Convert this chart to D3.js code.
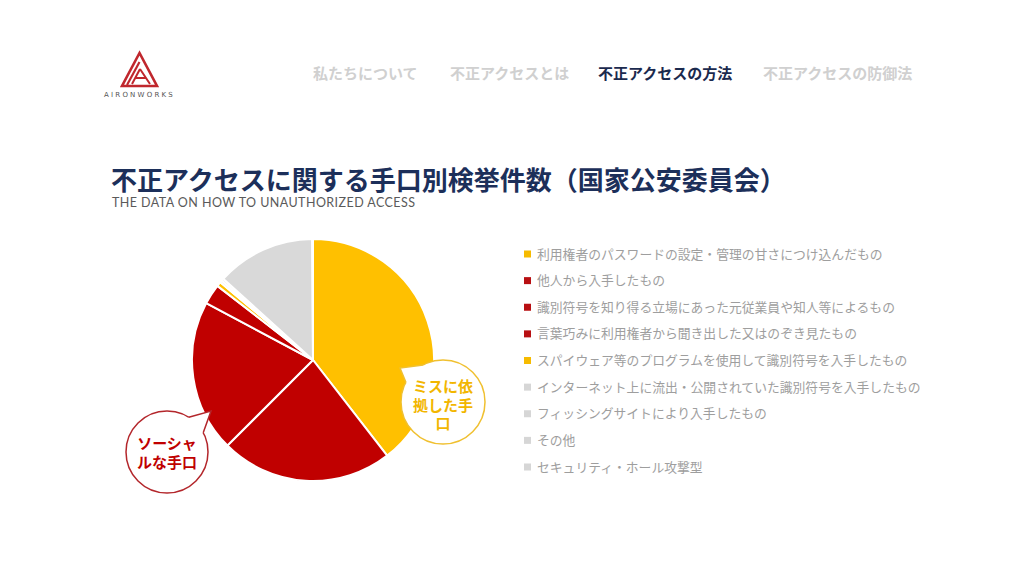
<!DOCTYPE html>
<html><head><meta charset="utf-8">
<script src="https://cdn.jsdelivr.net/npm/d3@7/dist/d3.min.js"></script>
<style>
html,body{margin:0;padding:0;background:#fff;}
svg{display:block;}
</style></head>
<body>
<script>
const categories = [
  "利用権者のパスワードの設定・管理の甘さにつけ込んだもの",
  "他人から入手したもの",
  "識別符号を知り得る立場にあった元従業員や知人等によるもの",
  "言葉巧みに利用権者から聞き出した又はのぞき見たもの",
  "スパイウェア等のプログラムを使用して識別符号を入手したもの",
  "インターネット上に流出・公開されていた識別符号を入手したもの",
  "フィッシングサイトにより入手したもの",
  "その他",
  "セキュリティ・ホール攻撃型"
];
const values = [395, 230, 203, 27, 6, 3, 3, 132, 1];
const groups = ["miss", "social", "social", "social", "miss", "other", "other", "other", "other"];
const navItems = ["私たちについて", "不正アクセスとは", "不正アクセスの方法", "不正アクセスの防御法"];
const activeNav = 2;
const titleText = "不正アクセスに関する手口別検挙件数（国家公安委員会）";
const subtitleText = "THE DATA ON HOW TO UNAUTHORIZED ACCESS";
const bubbles = [
  {group: "social", lines: ["ソーシャ", "ルな手口"]},
  {group: "miss", lines: ["ミスに依", "拠した手", "口"]}
];

const W = 1024, H = 576;
const JP = "'Noto Sans CJK JP','Noto Sans',sans-serif";
const color = d3.scaleOrdinal().domain(["miss","social","other"]).range(["#FFC000","#C00000","#D9D9D9"]);
const legendColor = d3.scaleOrdinal().domain(["miss","social","other"]).range(["#F6BB00","#B80F12","#D6D6D6"]);

const svg = d3.select("body").append("svg").attr("width", W).attr("height", H);

// Logo
const logo = svg.append("g");
logo.append("path").attr("d", "M139.5,53 L122,86 L157,86 Z").attr("fill","none").attr("stroke","#C0272D").attr("stroke-width",2.6).attr("stroke-linejoin","miter");
logo.append("path").attr("d", "M139.5,62 L127,85").attr("stroke","#C0272D").attr("stroke-width",2.2).attr("fill","none");
logo.append("path").attr("d", "M140,69 L132,84 M140,69 L150,84 M136,78 L146,78").attr("stroke","#C0272D").attr("stroke-width",2).attr("fill","none");
logo.append("text").attr("x",139.5).attr("y",97).attr("text-anchor","middle")
  .attr("font-family","'DejaVu Sans',sans-serif").attr("font-size",7).attr("letter-spacing",2.2)
  .attr("fill","#555").text("AIRONWORKS");

// Nav
const navX = [313, 450, 598, 763];
svg.append("g").selectAll("text").data(navItems).join("text")
  .attr("x",(d,i)=>navX[i]).attr("y",79)
  .attr("font-family",JP).attr("font-size",15).attr("font-weight",700)
  .attr("fill",(d,i)=> i===activeNav ? "#1B2A4E" : "#D0D0D0")
  .text(d=>d);

// Title
svg.append("text").attr("x",111).attr("y",190)
  .attr("font-family",JP).attr("font-size",26).attr("font-weight",700)
  .attr("fill","#1C2F5A").text(titleText);
svg.append("text").attr("x",112).attr("y",207)
  .attr("font-family","Lato,'Noto Sans',sans-serif").attr("font-size",12.5).attr("font-weight",400)
  .attr("fill","#5a5a5a").attr("textLength",303).text(subtitleText);

// Pie
const cx = 313, cy = 360, R = 121;
const data = categories.map((c,i)=>({cat:c, value:values[i], group:groups[i]}));
const pie = d3.pie().sort(null).value(d=>d.value).startAngle(0).endAngle(2*Math.PI);
const arc = d3.arc().innerRadius(0).outerRadius(R);
const pg = svg.append("g").attr("transform",`translate(${cx},${cy})`);
pg.selectAll("path").data(pie(data)).join("path")
  .attr("d",arc).attr("fill",d=>color(d.data.group))
  .attr("stroke","#fff").attr("stroke-width",2).attr("stroke-linejoin","round");

// Bubbles
const bubbleGeom = {
  social: {cx:167, cy:452, r:41, a1:-58, a2:-28, tip:[211,411], text:"#C00000", stroke:"#B3262B", fs:15, y0:449, lh:18.5},
  miss:   {cx:443, cy:402, r:42, a1:-152, a2:-118, tip:[400,368], text:"#F2B600", stroke:"#F0C030", fs:15, y0:392, lh:18.5}
};
bubbles.forEach(b=>{
  const g = bubbleGeom[b.group];
  const bg = svg.append("g");
  const p1 = [g.cx + g.r*Math.cos(g.a1*Math.PI/180), g.cy + g.r*Math.sin(g.a1*Math.PI/180)];
  const p2 = [g.cx + g.r*Math.cos(g.a2*Math.PI/180), g.cy + g.r*Math.sin(g.a2*Math.PI/180)];
  bg.append("circle").attr("cx",g.cx).attr("cy",g.cy).attr("r",g.r)
    .attr("fill","#fff").attr("stroke",g.stroke).attr("stroke-width",1.5);
  const m1 = [g.cx + (g.r-3)*Math.cos(g.a1*Math.PI/180), g.cy + (g.r-3)*Math.sin(g.a1*Math.PI/180)];
  const m2 = [g.cx + (g.r-3)*Math.cos(g.a2*Math.PI/180), g.cy + (g.r-3)*Math.sin(g.a2*Math.PI/180)];
  bg.append("path").attr("d",`M${m1[0]},${m1[1]} L${p1[0]},${p1[1]} L${g.tip[0]},${g.tip[1]} L${p2[0]},${p2[1]} L${m2[0]},${m2[1]} Z`)
    .attr("fill","#fff").attr("stroke","none");
  bg.append("path").attr("d",`M${p1[0]},${p1[1]} L${g.tip[0]},${g.tip[1]} L${p2[0]},${p2[1]}`)
    .attr("fill","none").attr("stroke",g.stroke).attr("stroke-width",1.5).attr("stroke-linejoin","miter");
  const t = bg.append("text").attr("text-anchor","middle")
    .attr("font-family",JP).attr("font-size",g.fs).attr("font-weight",700)
    .attr("fill",g.text);
  t.selectAll("tspan").data(b.lines).join("tspan")
    .attr("x",g.cx).attr("y",(d,i)=>g.y0 + i*g.lh).text(d=>d);
});

// Legend
const ly = d3.scalePoint().domain(categories).range([254, 467]);
const lg = svg.append("g");
const items = lg.selectAll("g").data(data).join("g").attr("transform",d=>`translate(524,${ly(d.cat)})`);
items.append("rect").attr("x",0).attr("y",-3.5).attr("width",7).attr("height",7).attr("fill",d=>legendColor(d.group));
items.append("text").attr("x",13).attr("y",0).attr("dy","0.36em")
  .attr("font-family",JP).attr("font-size",12.8).attr("font-weight",400)
  .attr("fill","#9E9E9E").text(d=>d.cat);
</script>
</body></html>
